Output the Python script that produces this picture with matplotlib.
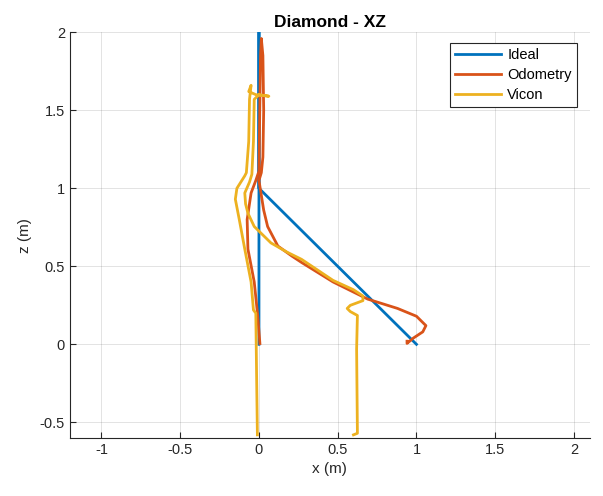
import matplotlib
matplotlib.use('Agg')
import matplotlib.pyplot as plt

plt.rcParams['font.family'] = ['Liberation Sans', 'DejaVu Sans']

# ideal diamond path (XZ projection)
ideal_x = [0, 0, 0, 1]
ideal_z = [0, 2, 1, 0]

# odometry
odom_x = [0.006, -0.008, -0.03, -0.07, -0.075, -0.05, -0.02, 0.0, 0.005, 0.01, 0.015,
          0.025, 0.03, 0.025, 0.015, 0.0, 0.03, 0.055, 0.12, 0.21, 0.27, 0.47, 0.69,
          0.88, 1.0, 1.06, 1.04, 0.98, 0.94, 0.94]
odom_z = [0.005, 0.185, 0.40, 0.61, 0.8, 0.97, 1.05, 1.11, 1.5, 1.85, 1.96,
          1.85, 1.5, 1.2, 1.1, 1.05, 0.86, 0.755, 0.63, 0.565, 0.525, 0.40, 0.29,
          0.23, 0.18, 0.12, 0.08, 0.04, 0.006, 0.02]

# vicon
vicon_x = [-0.01, -0.015, -0.02, -0.035, -0.05, -0.09, -0.125, -0.15, -0.14, -0.09,
           -0.08, -0.065, -0.06, -0.05, -0.065, -0.02, 0.063, 0.0, -0.03, -0.035,
           -0.045, -0.06, -0.09, -0.085, -0.07, -0.03, 0.076, 0.18, 0.27, 0.47, 0.6,
           0.66, 0.66, 0.58, 0.56, 0.58, 0.625, 0.62, 0.625, 0.6]
vicon_z = [-0.58, -0.2, 0.2, 0.22, 0.4, 0.61, 0.8, 0.93, 1.0, 1.08,
           1.1, 1.3, 1.57, 1.66, 1.62, 1.6, 1.59, 1.6, 1.57, 1.3,
           1.09, 1.04, 0.97, 0.9, 0.84, 0.755, 0.65, 0.59, 0.545, 0.41, 0.35,
           0.31, 0.28, 0.25, 0.23, 0.21, 0.185, -0.03, -0.57, -0.58]

ink = '#262626'

fig = plt.figure(figsize=(6.03, 4.96), dpi=100)
ax = fig.add_axes([0.116, 0.117, 0.862, 0.818])
ax.plot(ideal_x, ideal_z, color='#0072BD', lw=2, label='Ideal')
ax.plot(odom_x, odom_z, color='#D95319', lw=2, label='Odometry')
ax.plot(vicon_x, vicon_z, color='#EDB120', lw=2, label='Vicon')

ax.set_xlim(-1.2, 2.1)
ax.set_ylim(-0.6, 2)
ax.set_xticks([-1, -0.5, 0, 0.5, 1, 1.5, 2])
ax.set_xticklabels(['-1', '-0.5', '0', '0.5', '1', '1.5', '2'])
ax.set_yticks([-0.5, 0, 0.5, 1, 1.5, 2])
ax.set_yticklabels(['-0.5', '0', '0.5', '1', '1.5', '2'])
ax.grid(True, color='#262626', alpha=0.15, lw=0.6)
ax.set_axisbelow(True)
for s in ['top', 'right']:
    ax.spines[s].set_visible(False)
for s in ['left', 'bottom']:
    ax.spines[s].set_color(ink)
    ax.spines[s].set_linewidth(0.8)
ax.tick_params(direction='in', length=4, width=0.8, colors=ink, labelsize=10.5)

ax.set_title('Diamond - XZ', fontsize=12.5, fontweight='bold', color='black', pad=4)
ax.set_xlabel('x (m)', fontsize=11, color=ink, labelpad=4)
ax.set_ylabel('z (m)', fontsize=11, color=ink, labelpad=6)

leg = ax.legend(loc='upper right', bbox_to_anchor=(0.975, 0.973), borderaxespad=0,
                fontsize=10.5, fancybox=False, framealpha=1, edgecolor=ink,
                handlelength=3.2, borderpad=0.35, labelspacing=0.4, handletextpad=0.4)
leg.get_frame().set_linewidth(0.8)

fig.savefig('out.png', dpi=100)
